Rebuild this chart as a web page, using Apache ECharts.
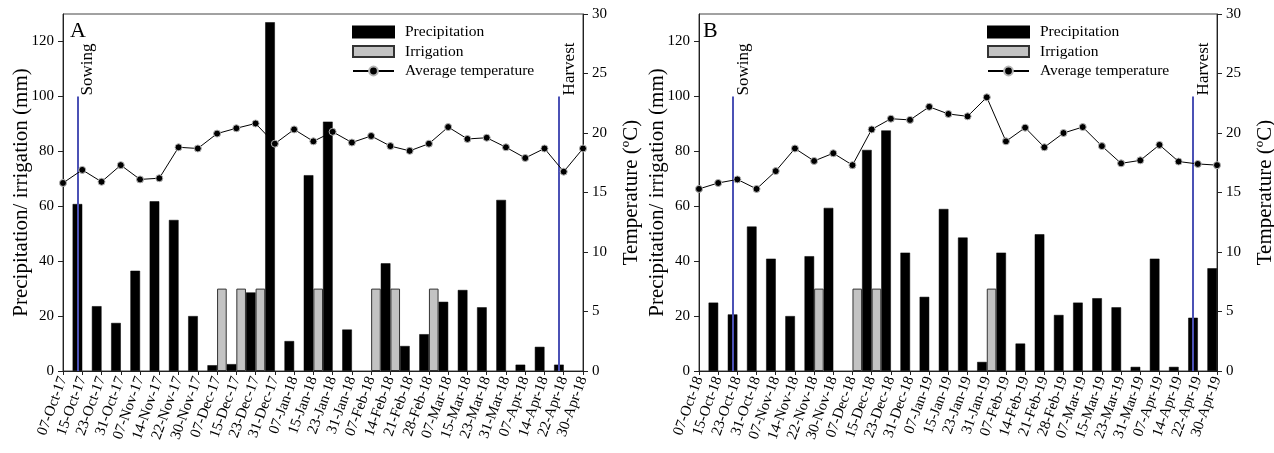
<!DOCTYPE html>
<html>
<head>
<meta charset="utf-8">
<script src="https://cdn.jsdelivr.net/npm/echarts@6/dist/echarts.min.js"></script>
<style>
html,body{margin:0;padding:0;background:#fff;}
#chart{width:1274px;height:453px;}
</style>
</head>
<body>
<div id="chart"></div>
<script>
// ---------- DATA ----------
const categoriesA = ['07-Oct-17','15-Oct-17','23-Oct-17','31-Oct-17','07-Nov-17','14-Nov-17','22-Nov-17','30-Nov-17','07-Dec-17','15-Dec-17','23-Dec-17','31-Dec-17','07-Jan-18','15-Jan-18','23-Jan-18','31-Jan-18','07-Feb-18','14-Feb-18','21-Feb-18','28-Feb-18','07-Mar-18','15-Mar-18','23-Mar-18','31-Mar-18','07-Apr-18','14-Apr-18','22-Apr-18','30-Apr-18'];
const precipitationA = [null,60.8,23.6,17.5,36.5,61.8,55.0,20.0,2.1,2.5,28.6,127.0,10.9,71.3,90.8,15.1,null,39.2,9.1,13.4,25.2,29.5,23.2,62.3,2.3,8.8,2.3,null];
const irrigationA = [null,null,null,null,null,null,null,null,30,30,30,null,null,30,null,null,30,30,null,30,null,null,null,null,null,null,null,null];
const temperatureA = [15.8,16.9,15.9,17.3,16.1,16.2,18.8,18.7,19.95,20.4,20.8,19.1,20.3,19.3,20.1,19.2,19.75,18.9,18.5,19.1,20.5,19.5,19.6,18.8,17.9,18.7,16.75,18.7];
const sowingA = '15-Oct-17';
const harvestA = '22-Apr-18';

const categoriesB = ['07-Oct-18','15-Oct-18','23-Oct-18','31-Oct-18','07-Nov-18','14-Nov-18','22-Nov-18','30-Nov-18','07-Dec-18','15-Dec-18','23-Dec-18','31-Dec-18','07-Jan-19','15-Jan-19','23-Jan-19','31-Jan-19','07-Feb-19','14-Feb-19','21-Feb-19','28-Feb-19','07-Mar-19','15-Mar-19','23-Mar-19','31-Mar-19','07-Apr-19','14-Apr-19','22-Apr-19','30-Apr-19'];
const precipitationB = [null,24.9,20.6,52.6,40.9,20.0,41.8,59.4,null,80.5,87.6,43.1,27.0,59.0,48.6,3.3,43.1,10.0,49.8,20.4,24.9,26.5,23.2,1.5,40.9,1.5,19.4,37.4];
const irrigationB = [null,null,null,null,null,null,30,null,30,30,null,null,null,null,null,30,null,null,null,null,null,null,null,null,null,null,null,null];
const temperatureB = [15.3,15.8,16.1,15.3,16.8,18.7,17.65,18.3,17.3,20.3,21.2,21.1,22.2,21.6,21.4,23.0,19.3,20.45,18.8,20.0,20.5,18.9,17.45,17.7,19.0,17.6,17.4,17.3];
const sowingB = '23-Oct-18';
const harvestB = '22-Apr-19';

const markerTop = 100;
const leftTicks = {min: 0, max: 130, interval: 20};
const rightTicks = {min: 0, max: 30, interval: 5};
const panelLetters = ['A', 'B'];
const legendNames = ['Precipitation', 'Irrigation', 'Average temperature'];

// ---------- STYLE ----------
const FONT = "'Liberation Serif', 'Times New Roman', serif";
const AXIS_COLOR = '#222';
const BLUE = '#4b51b5';

const grids = [
  {left: 63, right: 691, top: 14, bottom: 82},
  {left: 699, right: 57, top: 14, bottom: 82}
];

function xAxisFor(i, cats) {
  return {
    gridIndex: i, type: 'category', data: cats, boundaryGap: false,
    axisLine: {show: true, lineStyle: {color: AXIS_COLOR, width: 1}},
    axisTick: {show: true, length: 4, lineStyle: {color: AXIS_COLOR}},
    axisLabel: {interval: 0, rotate: 70, fontSize: 15, color: '#000', fontFamily: FONT, margin: 6},
    splitLine: {show: false}
  };
}
function leftAxisFor(i) {
  return {
    gridIndex: i, type: 'value', position: 'left',
    min: leftTicks.min, max: leftTicks.max, interval: leftTicks.interval,
    name: 'Precipitation/ irrigation (mm)', nameLocation: 'middle', nameGap: 31,
    nameMoveOverlap: false,
    nameTextStyle: {fontSize: 21, fontFamily: FONT, color: '#000'},
    axisLine: {show: true, lineStyle: {color: AXIS_COLOR, width: 1}},
    axisTick: {show: true, length: 5, lineStyle: {color: AXIS_COLOR}},
    axisLabel: {fontSize: 15, color: '#000', fontFamily: FONT, margin: 9, showMaxLabel: false},
    splitLine: {show: false}
  };
}
function rightAxisFor(i) {
  return {
    gridIndex: i, type: 'value', position: 'right',
    min: rightTicks.min, max: rightTicks.max, interval: rightTicks.interval,
    name: 'Temperature (ºC)', nameLocation: 'middle', nameGap: 38,
    nameMoveOverlap: false,
    nameTextStyle: {fontSize: 21, fontFamily: FONT, color: '#000'},
    axisLine: {show: true, lineStyle: {color: AXIS_COLOR, width: 1}},
    axisTick: {show: true, length: 5, lineStyle: {color: AXIS_COLOR}},
    axisLabel: {fontSize: 15, color: '#000', fontFamily: FONT, margin: 9},
    splitLine: {show: false}
  };
}

function seriesFor(i, precip, irr, temp, sow, harv) {
  return [
    {
      name: 'Precipitation', type: 'bar', xAxisIndex: i, yAxisIndex: 2 * i,
      data: precip, barGap: '0%', barCategoryGap: '0%',
      itemStyle: {color: '#000', borderColor: '#000', borderWidth: 0.5},
      z: 2, silent: true,
      markLine: {
        silent: true, symbol: ['none', 'none'], animation: false,
        lineStyle: {color: BLUE, width: 2, type: 'solid'},
        label: {show: false},
        data: [
          [{coord: [sow, 0]}, {coord: [sow, markerTop]}],
          [{coord: [harv, 0]}, {coord: [harv, markerTop]}]
        ]
      },
      markPoint: {
        silent: true, animation: false, symbol: 'circle', symbolSize: 1,
        itemStyle: {color: 'rgba(0,0,0,0)'},
        label: {
          show: true, position: 'inside', formatter: '{b}', rotate: 90,
          align: 'left', verticalAlign: 'top', offset: [1, 2],
          fontSize: 17, fontFamily: FONT, color: '#000'
        },
        data: [
          {name: 'Sowing', coord: [sow, markerTop]},
          {name: 'Harvest', coord: [harv, markerTop]}
        ]
      }
    },
    {
      name: 'Irrigation', type: 'bar', xAxisIndex: i, yAxisIndex: 2 * i,
      data: irr, barGap: '0%', barCategoryGap: '0%',
      itemStyle: {color: '#c3c3c3', borderColor: '#333', borderWidth: 1},
      z: 2, silent: true
    },
    {
      name: 'Average temperature', type: 'line', xAxisIndex: i, yAxisIndex: 2 * i + 1,
      data: temp, symbol: 'circle', symbolSize: 7, showAllSymbol: true,
      lineStyle: {color: '#000', width: 1},
      itemStyle: {color: '#000', borderColor: '#b5b5b5', borderWidth: 1},
      z: 5, silent: true
    }
  ];
}

function legendFor(left) {
  return {
    left: left, top: 24, orient: 'vertical', padding: 0,
    itemWidth: 41, itemHeight: 11, itemGap: 3.5,
    selectedMode: false,
    textStyle: {fontSize: 15.5, fontFamily: FONT, color: '#000', lineHeight: 16, padding: [0, 0, 0, 6]},
    data: [
      {name: legendNames[0], icon: 'rect'},
      {name: legendNames[1], icon: 'rect'},
      {name: legendNames[2]}
    ]
  };
}

const option = {
  animation: false,
  backgroundColor: '#fff',
  title: [
    {text: panelLetters[0], left: 70, top: 20, padding: 0, textStyle: {fontSize: 22, fontWeight: 'normal', fontFamily: FONT, color: '#000'}},
    {text: panelLetters[1], left: 703, top: 20, padding: 0, textStyle: {fontSize: 22, fontWeight: 'normal', fontFamily: FONT, color: '#000'}}
  ],
  legend: [legendFor(352), legendFor(987)],
  grid: grids.map(g => Object.assign({show: true, borderColor: '#444', borderWidth: 1, backgroundColor: 'transparent', containLabel: false, outerBoundsMode: 'none'}, g)),
  xAxis: [xAxisFor(0, categoriesA), xAxisFor(1, categoriesB)],
  yAxis: [leftAxisFor(0), rightAxisFor(0), leftAxisFor(1), rightAxisFor(1)],
  series: [].concat(
    seriesFor(0, precipitationA, irrigationA, temperatureA, sowingA, harvestA),
    seriesFor(1, precipitationB, irrigationB, temperatureB, sowingB, harvestB)
  )
};

const chart = echarts.init(document.getElementById('chart'), null, {renderer: 'canvas'});
chart.setOption(option);
</script>
</body>
</html>
